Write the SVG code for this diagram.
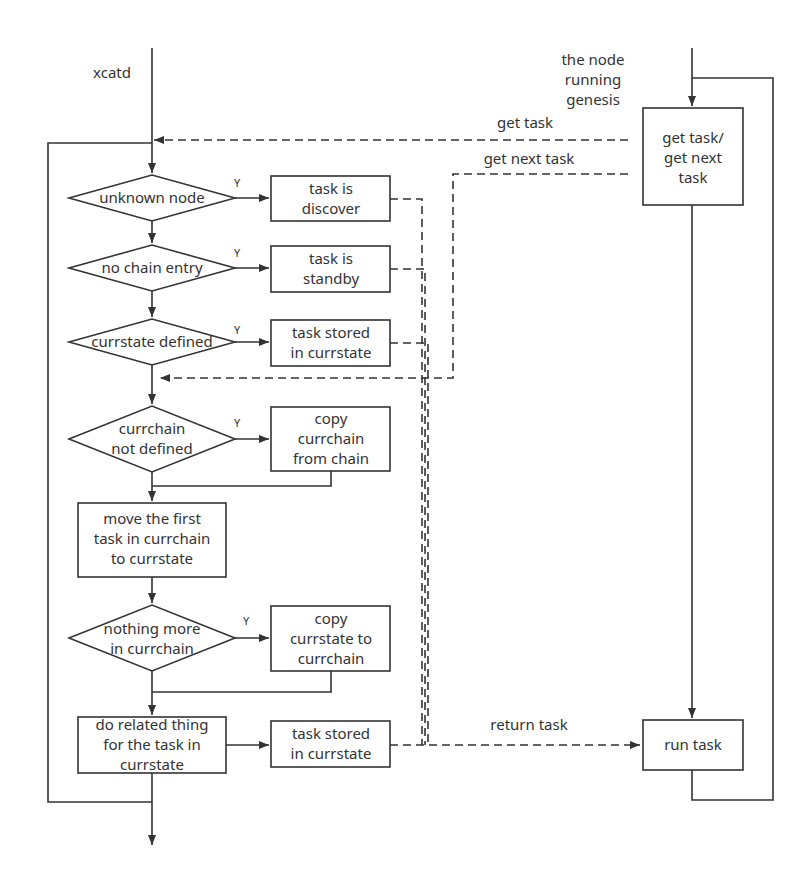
<svg xmlns="http://www.w3.org/2000/svg" width="805" height="876" viewBox="0 0 805 876">
<defs><marker id="a" markerWidth="10" markerHeight="8" refX="10" refY="4" orient="auto" markerUnits="userSpaceOnUse"><path d="M0,0 L10,4 L0,8 z" fill="#333"/></marker></defs>
<style>
.s{fill:#fff;stroke:#333;stroke-width:1.6}
.l{fill:none;stroke:#333;stroke-width:1.6}
.d{fill:none;stroke:#333;stroke-width:1.6;stroke-dasharray:8,5}
text{font-family:"Noto Sans","Open Sans",sans-serif;font-size:15px;fill:#333;text-anchor:middle}
.y{font-size:11px}
</style>
<rect width="805" height="876" fill="#fff"/>
<g id="connectors">
<path class="l" d="M152,48 V173" marker-end="url(#a)"/>
<path class="l" d="M152,143 H48 V802 H152"/>
<path class="l" d="M152,221 V243" marker-end="url(#a)"/>
<path class="l" d="M152,291 V317" marker-end="url(#a)"/>
<path class="l" d="M152,365 V404" marker-end="url(#a)"/>
<path class="l" d="M152,472 V501" marker-end="url(#a)"/>
<path class="l" d="M152,577 V603" marker-end="url(#a)"/>
<path class="l" d="M152,671 V715" marker-end="url(#a)"/>
<path class="l" d="M152,773 V845" marker-end="url(#a)"/>
<path class="l" d="M235,198 H269" marker-end="url(#a)"/>
<path class="l" d="M235,268 H269" marker-end="url(#a)"/>
<path class="l" d="M235,342 H269" marker-end="url(#a)"/>
<path class="l" d="M235,439 H269" marker-end="url(#a)"/>
<path class="l" d="M235,638 H269" marker-end="url(#a)"/>
<path class="l" d="M226,745 H269" marker-end="url(#a)"/>
<path class="l" d="M331,471 V486 H152"/>
<path class="l" d="M331,671 V692 H152"/>
<path class="l" d="M692,48 V106" marker-end="url(#a)"/>
<path class="l" d="M692,205 V718" marker-end="url(#a)"/>
<path class="l" d="M692,770 V800 H773 V78 H692"/>
<path class="d" d="M628,140 H154" marker-end="url(#a)"/>
<path class="d" d="M628,174 H453 V378 H160" marker-end="url(#a)"/>
<path class="d" d="M390,199 H422 V745"/>
<path class="d" d="M390,269 H425 V745"/>
<path class="d" d="M390,343 H428 V745"/>
<path class="d" d="M390,745 H640" marker-end="url(#a)"/>
</g>
<g id="labels">
<text x="112" y="78">xcatd</text>
<text x="593" y="65">the node</text>
<text x="593" y="85">running</text>
<text x="593" y="105">genesis</text>
<text x="525" y="128">get task</text>
<text x="529" y="164">get next task</text>
<text x="529" y="730">return task</text>
<text class="y" x="237" y="187">Y</text>
<text class="y" x="237" y="257">Y</text>
<text class="y" x="237" y="334">Y</text>
<text class="y" x="237" y="427">Y</text>
<text class="y" x="246" y="625">Y</text>
</g>
<g id="d1"><polygon class="s" points="69,198 152,175 235,198 152,221"/><text x="152" y="203">unknown node</text></g>
<g id="d2"><polygon class="s" points="69,268 152,245 235,268 152,291"/><text x="152" y="273">no chain entry</text></g>
<g id="d3"><polygon class="s" points="69,342 152,319 235,342 152,365"/><text x="152" y="347">currstate defined</text></g>
<g id="d4"><polygon class="s" points="69,439 152,406 235,439 152,472"/><text x="152" y="434">currchain</text><text x="152" y="454">not defined</text></g>
<g id="b7"><rect class="s" x="78" y="503" width="148" height="74"/><text x="152" y="524">move the first</text><text x="152" y="544">task in currchain</text><text x="152" y="564">to currstate</text></g>
<g id="d5"><polygon class="s" points="69,638 152,605 235,638 152,671"/><text x="152" y="634">nothing more</text><text x="152" y="654">in currchain</text></g>
<g id="b9"><rect class="s" x="78" y="717" width="148" height="56"/><text x="152" y="730">do related thing</text><text x="152" y="750">for the task in</text><text x="152" y="770">currstate</text></g>
<g id="b1"><rect class="s" x="271" y="176" width="119" height="45"/><text x="331" y="194">task is</text><text x="331" y="214">discover</text></g>
<g id="b2"><rect class="s" x="271" y="246" width="119" height="46"/><text x="331" y="264">task is</text><text x="331" y="284">standby</text></g>
<g id="b3"><rect class="s" x="271" y="320" width="119" height="46"/><text x="331" y="338">task stored</text><text x="331" y="358">in currstate</text></g>
<g id="b4"><rect class="s" x="271" y="407" width="119" height="64"/><text x="331" y="424">copy</text><text x="331" y="444">currchain</text><text x="331" y="464">from chain</text></g>
<g id="b5"><rect class="s" x="271" y="606" width="119" height="65"/><text x="331" y="624">copy</text><text x="331" y="644">currstate to</text><text x="331" y="664">currchain</text></g>
<g id="b6"><rect class="s" x="271" y="721" width="119" height="46"/><text x="331" y="739">task stored</text><text x="331" y="759">in currstate</text></g>
<g id="g1"><rect class="s" x="643" y="108" width="100" height="97"/><text x="693" y="143">get task/</text><text x="693" y="163">get next</text><text x="693" y="183">task</text></g>
<g id="r1"><rect class="s" x="643" y="720" width="100" height="50"/><text x="693" y="750">run task</text></g>
</svg>
